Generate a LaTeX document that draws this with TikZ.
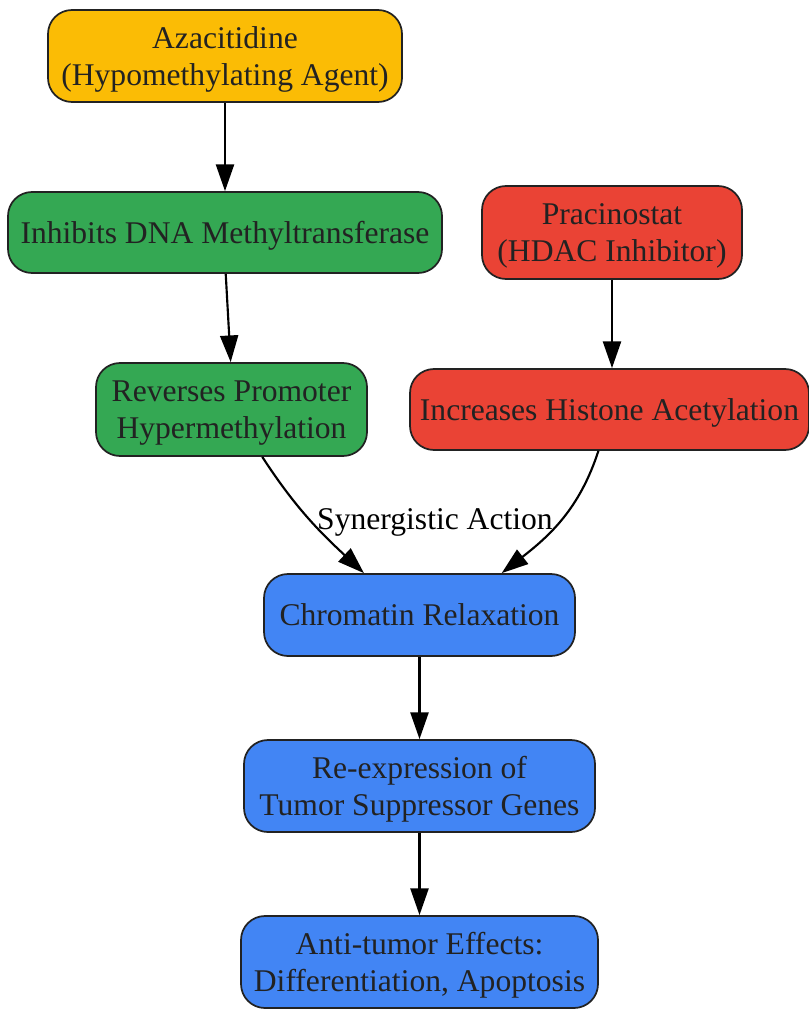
\documentclass[tikz,border=0pt]{standalone}
\usepackage{fontspec}
\setmainfont{Liberation Serif}
\usetikzlibrary{arrows.meta}
\definecolor{azayellow}{HTML}{FBBC05}
\definecolor{dnmtgreen}{HTML}{34A853}
\definecolor{hdacred}{HTML}{EA4335}
\definecolor{chromblue}{HTML}{4285F4}
\definecolor{inkgray}{HTML}{222222}

\begin{document}
\begin{tikzpicture}[%
      x=0.75pt, y=-0.75pt,
      stepnode/.style={draw=inkgray, line width=1.3pt, rounded corners=18pt,
        align=center, text=inkgray, inner sep=0pt, text depth=0pt,
        font=\fontsize{23.7}{27.8}\selectfont},
      arr/.style={-{Triangle[length=20pt,width=13.5pt]}, line width=1.6pt, black},
      ]
      \useasboundingbox (0,0) rectangle (809,1009);

      % nodes
      \node[stepnode, fill=azayellow, minimum width=265.5pt, minimum height=69pt]
        (aza) at (225,56) {Azacitidine\\(Hypomethylating Agent)};
      \node[stepnode, fill=dnmtgreen, minimum width=325.5pt, minimum height=60.75pt]
        (dnmt) at (225,232.5) {Inhibits DNA Methyltransferase};
      \node[stepnode, fill=hdacred, minimum width=195pt, minimum height=69.75pt]
        (prac) at (612,232.5) {Pracinostat\\(HDAC Inhibitor)};
      \node[stepnode, fill=dnmtgreen, minimum width=203.25pt, minimum height=69.75pt]
        (rev) at (231.5,409.5) {Reverses Promoter\\Hypermethylation};
      \node[stepnode, fill=hdacred, minimum width=299.25pt, minimum height=60.75pt]
        (acet) at (609.5,409.5) {Increases Histone Acetylation};
      \node[stepnode, fill=chromblue, minimum width=233.25pt, minimum height=61.5pt]
        (chrom) at (419.5,615) {Chromatin Relaxation};
      \node[stepnode, fill=chromblue, minimum width=263.25pt, minimum height=69pt]
        (tsg) at (419.5,786) {Re-expression of\\Tumor Suppressor Genes};
      \node[stepnode, fill=chromblue, minimum width=267.75pt, minimum height=69pt]
        (anti) at (419.5,962) {Anti-tumor Effects:\\Differentiation, Apoptosis};

      % edges
      \draw[arr] (aza) -- (dnmt);
      \draw[arr] (dnmt.-89) -- (rev.91);
      \draw[arr] (prac) -- (prac |- acet.north);
      \draw[arr] (rev.-57) to[out=-57,in=137] (chrom.143);
      \draw[arr] (acet.-105) to[out=-108,in=38] (chrom.27);
      \draw[arr] (chrom) -- (tsg);
      \draw[arr] (tsg) -- (anti);

      \node[font=\fontsize{23.7}{27.8}\selectfont, inner sep=0pt, text depth=0pt]
        (syn) at (435,519) {Synergistic Action};
\end{tikzpicture}
\end{document}
